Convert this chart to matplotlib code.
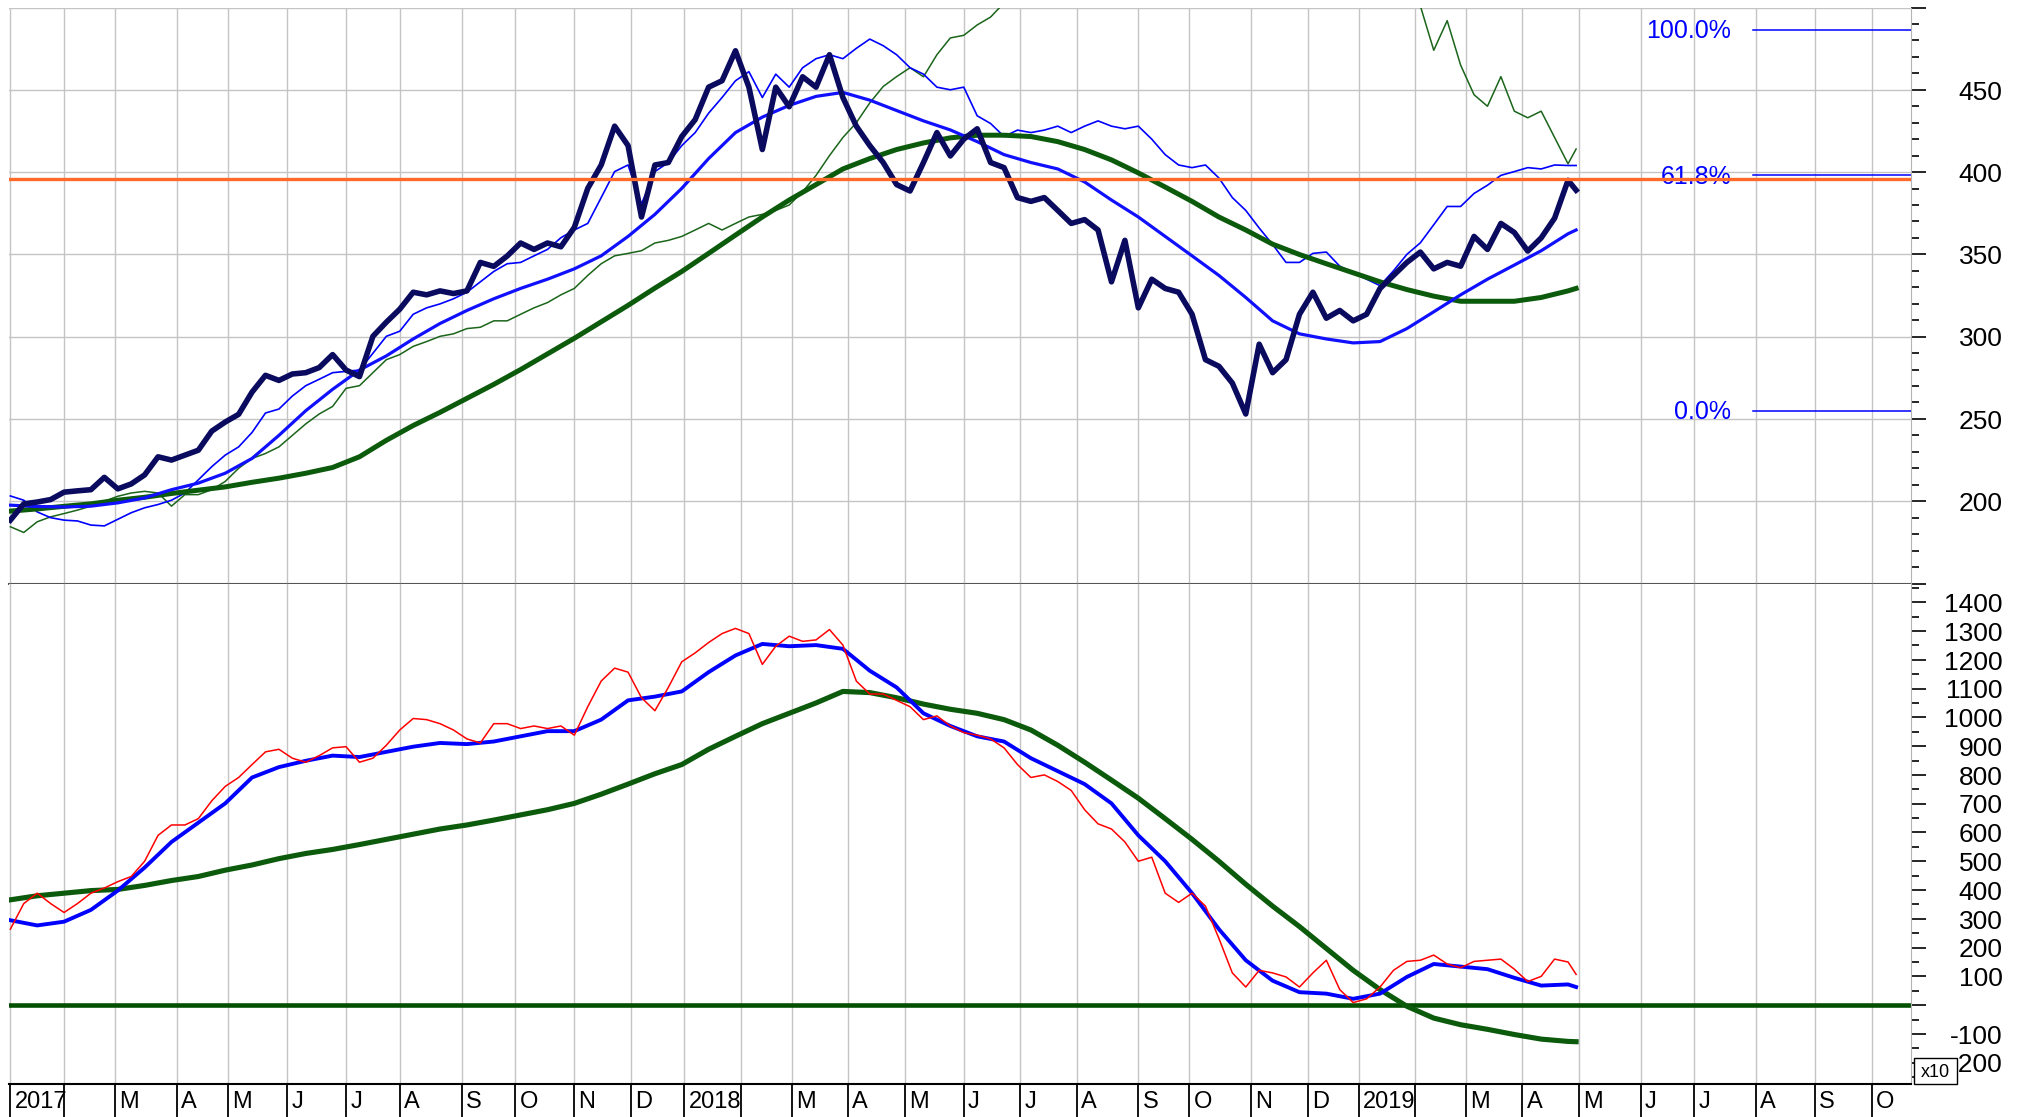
import numpy as np
import pandas as pd
import matplotlib
matplotlib.use("Agg")
import matplotlib.pyplot as plt
from matplotlib.patches import Rectangle
from matplotlib.ticker import MultipleLocator

plt.rcParams['font.family'] = ['Liberation Sans', 'DejaVu Sans']

##### Calendar (x axis runs on trading days) ######
FIRST_DAY = '2017-01-03'
DATA_END = '2019-04-30'
AXIS_END = '2019-10-31'
HOLIDAYS = ['2017-01-16', '2017-02-20', '2017-04-14', '2017-05-29', '2017-07-04',
            '2017-09-04', '2017-11-23', '2017-12-25', '2018-01-01', '2018-01-15',
            '2018-02-19', '2018-03-30', '2018-05-28', '2018-07-04', '2018-09-03',
            '2018-11-22', '2018-12-05', '2018-12-25', '2019-01-01', '2019-01-21',
            '2019-02-18', '2019-04-19']

##### Upper panel, weekly samples ######
price = [188.5, 198.4, 199.5, 201.0, 205.5, 206.3, 207.0, 214.5, 207.5, 210.5,
         216.0, 227.0, 225.0, 228.0, 231.0, 242.6, 248.1, 252.8, 266.3, 276.5,
         273.4, 277.3, 278.1, 281.2, 289.1, 279.7, 275.7, 300.2, 308.8, 316.7,
         327.0, 325.4, 327.8, 326.2, 327.8, 345.1, 342.7, 349.0, 356.9, 353.0,
         356.9, 354.6, 366.4, 390.1, 404.3, 427.9, 416.1, 372.7, 404.3, 405.8,
         421.6, 431.9, 451.6, 455.5, 473.7, 451.6, 413.7, 451.6, 439.7, 457.9,
         451.6, 471.3, 445.3, 427.9, 416.1, 405.8, 392.4, 388.5, 405.8, 424.0,
         409.8, 420.0, 426.3, 405.8, 402.7, 384.5, 382.2, 384.5, 376.7, 368.8,
         371.1, 364.8, 333.3, 358.5, 317.5, 334.9, 329.3, 327.0, 313.6, 286.0,
         282.0, 271.8, 253.0, 295.4, 278.1, 286.0, 313.6, 327.0, 311.2, 315.9,
         309.6, 313.6, 329.3, 337.2, 345.1, 351.4, 341.2, 345.1, 342.8, 360.9,
         353.0, 368.8, 363.3, 352.0, 360.0, 372.0, 395.0, 389.0]

compare_blue = [203.2, 200.6, 193.5, 190.0, 188.5, 188.0, 185.5, 185.0, 189.0, 193.0,
                196.0, 198.0, 200.6, 205.0, 213.0, 221.0, 228.0, 233.0, 241.8, 253.6,
                256.0, 263.9, 270.2, 274.1, 278.1, 278.9, 279.7, 289.9, 300.2, 303.3,
                313.6, 317.5, 319.9, 323.0, 327.0, 333.3, 339.6, 344.3, 345.1, 349.1,
                353.0, 360.1, 364.8, 368.8, 384.5, 400.3, 404.3, 380.6, 400.3, 405.8,
                416.1, 424.0, 435.8, 445.3, 455.5, 461.0, 445.3, 459.5, 451.6, 463.4,
                468.9, 471.3, 468.9, 475.2, 480.8, 476.8, 471.3, 463.4, 459.5, 451.6,
                450.0, 451.6, 434.2, 429.5, 421.6, 425.5, 424.0, 425.5, 427.9, 424.0,
                427.9, 431.1, 427.9, 426.3, 427.9, 420.0, 410.6, 404.3, 402.7, 404.3,
                396.4, 384.5, 376.7, 366.0, 356.0, 345.1, 345.1, 350.6, 351.4, 342.8,
                338.8, 334.9, 331.0, 340.0, 350.0, 357.0, 368.0, 379.1, 379.1, 387.0,
                392.0, 398.0, 400.3, 402.7, 401.9, 404.3, 404.0, 404.0]

compare_green = [184.5, 181.0, 187.5, 190.5, 192.5, 194.6, 197.0, 200.0, 203.0, 205.0,
                 206.0, 205.0, 197.0, 204.0, 204.0, 207.0, 212.0, 220.0, 226.0, 229.0,
                 233.0, 240.0, 247.0, 253.0, 257.6, 268.6, 270.2, 278.1, 286.0, 289.1,
                 294.1, 297.0, 300.2, 301.7, 304.9, 305.7, 309.6, 309.6, 313.6, 317.5,
                 320.7, 325.4, 329.3, 337.2, 344.3, 349.1, 350.6, 352.2, 356.9, 358.5,
                 360.9, 364.8, 368.8, 364.8, 368.8, 372.7, 374.3, 376.7, 380.0, 388.0,
                 398.0, 410.0, 421.0, 430.0, 442.0, 452.0, 458.0, 463.4, 457.9, 471.3,
                 481.5, 483.1, 489.4, 494.2, 502.8, 510.0, 518.0, 526.0, 534.0, 541.0,
                 548.0, 553.0, 558.0, 562.0, 566.0, 570.0, 574.0, 578.0, 580.0, 583.0,
                 585.0, 586.0, 584.0, 580.0, 575.0, 570.0, 563.0, 556.0, 548.0, 540.0,
                 532.0, 524.0, 516.0, 509.0, 504.0, 501.0, 474.0, 492.0, 465.0, 447.0,
                 440.0, 458.0, 437.0, 433.0, 437.0, 421.0, 405.0, 414.0]

##### Upper panel, averages (every second week) ######
ma_fast = [197.6, 196.8, 196.5, 197.0, 199.0, 202.0, 207.0, 211.0, 217.0, 226.0,
           240.0, 255.0, 268.0, 279.7, 288.3, 298.6, 308.0, 315.9, 323.0, 329.3,
           334.9, 341.2, 349.1, 360.9, 374.3, 390.1, 408.2, 424.0, 433.4, 440.5,
           446.0, 448.4, 443.7, 437.4, 431.1, 425.6, 418.5, 410.6, 405.8, 401.9,
           394.0, 383.0, 372.7, 360.9, 349.1, 337.2, 323.8, 309.6, 301.7, 298.6,
           296.2, 297.0, 304.9, 315.1, 325.4, 334.9, 343.5, 352.2, 362.5, 364.8]

ma_slow = [194.0, 195.3, 196.9, 198.4, 200.6, 202.4, 204.7, 206.7, 208.7, 211.5,
           214.0, 217.0, 220.5, 227.0, 237.0, 246.0, 254.0, 262.5, 271.0, 280.0,
           289.5, 299.0, 309.0, 319.0, 329.5, 339.6, 350.6, 361.7, 372.7, 383.0,
           392.4, 401.9, 408.2, 413.7, 417.7, 420.8, 422.4, 422.4, 421.6, 418.5,
           413.7, 407.4, 399.5, 390.9, 382.2, 372.7, 364.8, 356.2, 349.9, 344.3,
           338.8, 333.3, 328.6, 324.6, 321.5, 321.5, 321.5, 323.8, 327.8, 329.3]

resistance = 396.0
fib_levels = [486.5, 398.1, 255.0]
fib_labels = ['100.0%', '61.8%', '0.0%']
fib_start = '2019-07-31'
price_ticks = [200, 250, 300, 350, 400, 450]

##### Lower panel (x10) ######
osc_red = [264, 353, 389, 353, 322, 353, 389, 407, 429, 447,
           500, 590, 626, 626, 648, 710, 760, 791, 836, 880,
           889, 858, 844, 867, 894, 898, 844, 858, 903, 956,
           996, 992, 978, 956, 925, 911, 978, 978, 961, 970,
           961, 970, 938, 1037, 1126, 1171, 1157, 1068, 1023, 1104,
           1193, 1224, 1260, 1291, 1309, 1291, 1184, 1247, 1282, 1264,
           1269, 1305, 1251, 1126, 1081, 1081, 1059, 1037, 992, 1005,
           970, 947, 938, 925, 894, 836, 791, 800, 777, 746,
           679, 630, 612, 567, 500, 514, 389, 357, 389, 344,
           232, 112, 63, 121, 112, 98, 63, 112, 156, 54,
           9, 22, 63, 121, 152, 156, 174, 143, 130, 152,
           156, 160, 125, 82, 100, 160, 150, 107]

osc_blue = [295, 277, 290, 331, 398, 478, 567, 634, 701, 791,
            827, 849, 867, 862, 880, 898, 911, 907, 916, 934,
            952, 952, 992, 1059, 1072, 1090, 1157, 1215, 1255, 1247,
            1251, 1238, 1162, 1104, 1014, 970, 934, 916, 858, 813,
            768, 701, 590, 500, 389, 264, 156, 85, 45, 40,
            22, 40, 98, 143, 134, 125, 95, 68, 72, 63]

osc_green = [366, 380, 389, 398, 402, 416, 433, 447, 469, 487,
             509, 527, 541, 558, 576, 594, 612, 626, 643, 661,
             679, 701, 733, 768, 804, 836, 889, 934, 978, 1014,
             1050, 1090, 1086, 1068, 1046, 1028, 1014, 992, 956, 903,
             844, 782, 719, 648, 576, 500, 420, 344, 273, 197,
             121, 54, -4, -45, -68, -84, -102, -118, -126, -127]

osc_ticks = [-200, -100, 100, 200, 300, 400, 500, 600, 700,
             800, 900, 1000, 1100, 1200, 1300, 1400]

# trading-day positions
days = pd.bdate_range(FIRST_DAY, AXIS_END)
days = days[~days.isin(pd.to_datetime(HOLIDAYS))]
n_data = days.searchsorted(pd.Timestamp(DATA_END)) + 1
wk_x = np.r_[np.arange(0, n_data, 5), n_data - 1]
bw_x = np.r_[np.arange(0, n_data, 10), n_data - 1]
x_max = days.searchsorted(pd.Timestamp('2019-10-21')) + 0.7

month_starts = pd.date_range('2017-01-01', AXIS_END, freq='MS')
month_x = days.searchsorted(month_starts)
month_lab = []
for d in month_starts:
    if d.month == 1:
        month_lab.append(str(d.year))
    elif d.month == 2:
        month_lab.append('')
    else:
        month_lab.append(d.strftime('%b')[0])

W, H = 2026, 1117
fig = plt.figure(figsize=(W / 100, H / 100), dpi=100)
ax1 = fig.add_axes([9 / W, 1 - 583.5 / H, 1902 / W, 576 / H])
ax2 = fig.add_axes([9 / W, 1 - 1084.3 / H, 1902 / W, 500.8 / H], sharex=ax1)

GRID = '#c4c4c4'
for ax in (ax1, ax2):
    ax.set_xlim(-0.5, x_max)
    ax.set_xticks(month_x)
    ax.grid(True, axis='x', color=GRID, lw=1.0)
    ax.set_axisbelow(True)
    ax.yaxis.set_ticks_position('right')
    ax.tick_params(axis='y', which='both', direction='out', color='black',
                   labelright=False, labelleft=False)
    ax.tick_params(axis='y', which='major', length=11, width=1.2)
    ax.tick_params(axis='y', which='minor', length=5.5, width=1.2)
    ax.spines['left'].set_visible(False)
    ax.spines['top'].set_visible(False)
    ax.spines['right'].set_color('#b4b4b4')

# upper panel
ax1.set_ylim(150, 500)
ax1.set_yticks(range(150, 501, 50))
ax1.yaxis.set_minor_locator(MultipleLocator(10))
ax1.grid(True, axis='y', color=GRID, lw=1.0)
ax1.tick_params(axis='x', length=0, labelbottom=False)
ax1.spines['bottom'].set_color('#555555')
ax1.spines['bottom'].set_linewidth(1.5)

ax1.plot(wk_x, compare_green, color='#1a651a', lw=1.1, zorder=3)
ax1.plot(wk_x, compare_blue, color='#0000ff', lw=1.2, zorder=3)
ax1.plot(bw_x, ma_slow, color='#0c5a0c', lw=3.6, zorder=4)
ax1.plot(bw_x, ma_fast, color='#1010ff', lw=2.3, zorder=4)
ax1.plot(wk_x, price, color='#0a0a5e', lw=4.0, zorder=5, solid_joinstyle='round')
ax1.axhline(resistance, color='#ff6a28', lw=2.4, zorder=7)

fx = days.searchsorted(pd.Timestamp(fib_start))
for lev, lab in zip(fib_levels, fib_labels):
    ax1.plot([fx, x_max], [lev, lev], color='#0000ff', lw=1.1, zorder=6)
    ax1.annotate(lab, xy=(fx, lev), xytext=(-16, -1), textcoords='offset points',
                 ha='right', va='center', color='#0000ff', fontsize=18, zorder=6)

for v in price_ticks:
    ax1.annotate(str(v), xy=(1, v), xycoords=('axes fraction', 'data'),
                 xytext=(66, -2), textcoords='offset points',
                 ha='right', va='center', fontsize=19)

# lower panel
ax2.set_ylim(-275, 1465)
ax2.set_yticks(range(-200, 1401, 100))
ax2.yaxis.set_minor_locator(MultipleLocator(50))
ax2.tick_params(axis='x', length=24, width=1.3, color='black', labelbottom=False)
ax2.spines['bottom'].set_color('black')
ax2.spines['bottom'].set_linewidth(1.5)

ax2.axhline(0, color='#005000', lw=3.3, zorder=2)
ax2.plot(bw_x, osc_green, color='#0c5a0c', lw=3.7, zorder=3)
ax2.plot(bw_x, osc_blue, color='#0000ff', lw=2.8, zorder=4)
ax2.plot(wk_x, osc_red, color='#ff0000', lw=1.1, zorder=5)

for v in osc_ticks:
    ax2.annotate(str(v), xy=(1, v), xycoords=('axes fraction', 'data'),
                 xytext=(66, -2), textcoords='offset points',
                 ha='right', va='center', fontsize=19)

ax2.add_patch(Rectangle((1.0016, 0), 0.0226, 0.052, transform=ax2.transAxes,
                        facecolor='white', edgecolor='black', lw=1.0,
                        clip_on=False, zorder=10))
ax2.text(1.0129, 0.024, 'x10', transform=ax2.transAxes, ha='center', va='center',
         fontsize=13, zorder=11, clip_on=False)

# month labels in the strip under the lower panel
for x, lab in zip(month_x, month_lab):
    if lab:
        ax2.annotate(lab, xy=(x, 0), xycoords=('data', 'axes fraction'),
                     xytext=(3, -5), textcoords='offset points', ha='left', va='top',
                     fontsize=17, family=['Liberation Sans Narrow', 'Liberation Sans'])

fig.savefig('out.png', dpi=100)
